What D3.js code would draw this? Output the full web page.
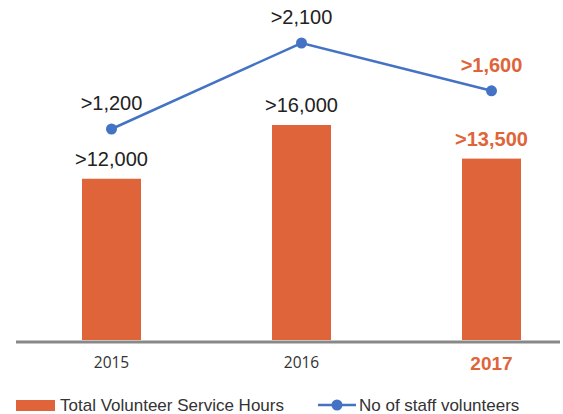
<!DOCTYPE html>
<html>
<head>
<meta charset="utf-8">
<script src="https://cdn.jsdelivr.net/npm/d3@7"></script>
<style>
  html, body { margin: 0; padding: 0; background: #fff; }
  svg { display: block; }
</style>
</head>
<body>
<div id="chart"></div>
<script>
// Data
const years = ['2015', '2016', '2017'];
const serviceHours = [12000, 16000, 13500];
const staffVolunteers = [1200, 2100, 1600];
const hourLabels = ['>12,000', '>16,000', '>13,500'];
const staffLabels = ['>1,200', '>2,100', '>1,600'];
const highlightYear = '2017';

const width = 563, height = 414;
const orange = '#E0643A';
const blue = '#4472C4';
const font = '"Liberation Sans", Arial, Helvetica, sans-serif';

const svg = d3.select('#chart').append('svg')
  .attr('width', width)
  .attr('height', height);

// Scales
const x = d3.scalePoint().domain(years).range([111.5, 491.5]);
const y = d3.scaleLinear().domain([0, 16000]).range([340, 125]);
const y2 = d3.scaleLinear().domain([1200, 2100]).range([129, 43]);
const barWidth = 59;

const rows = years.map((yr, i) => ({
  year: yr, hours: serviceHours[i], staff: staffVolunteers[i],
  hourLabel: hourLabels[i], staffLabel: staffLabels[i],
  hi: yr === highlightYear
}));

// Bars
svg.append('g').selectAll('rect')
  .data(rows)
  .join('rect')
  .attr('x', d => x(d.year) - barWidth / 2)
  .attr('y', d => y(d.hours))
  .attr('width', barWidth)
  .attr('height', d => y(0) - y(d.hours))
  .attr('fill', orange);

// Baseline axis
const xAxis = svg.append('g')
  .attr('transform', `translate(0,${y(0) + 2})`)
  .call(d3.axisBottom(x).tickSize(0).tickPadding(0).tickFormat(''));
xAxis.select('.domain')
  .attr('d', 'M16,0H560')
  .attr('stroke', '#888')
  .attr('stroke-width', 3);

// Year labels
svg.append('g').selectAll('text')
  .data(rows)
  .join('text')
  .attr('x', d => x(d.year))
  .attr('y', d => d.hi ? 370 : 368)
  .attr('text-anchor', 'middle')
  .attr('font-family', d => d.hi ? font : '"Open Sans", sans-serif')
  .attr('font-size', d => d.hi ? 19 : 15.5)
  .attr('font-weight', d => d.hi ? 'bold' : 'normal')
  .attr('fill', d => d.hi ? orange : '#333')
  .text(d => d.year);

// Bar value labels
svg.append('g').selectAll('text')
  .data(rows)
  .join('text')
  .attr('x', d => x(d.year))
  .attr('y', d => y(d.hours) - 13)
  .attr('text-anchor', 'middle')
  .attr('font-family', font)
  .attr('font-size', 20)
  .attr('font-weight', d => d.hi ? 'bold' : 'normal')
  .attr('fill', d => d.hi ? orange : '#222')
  .text(d => d.hourLabel);

// Line series
const line = d3.line()
  .x(d => x(d.year))
  .y(d => y2(d.staff));

svg.append('path')
  .datum(rows)
  .attr('d', line)
  .attr('fill', 'none')
  .attr('stroke', blue)
  .attr('stroke-width', 2.5);

svg.append('g').selectAll('circle')
  .data(rows)
  .join('circle')
  .attr('cx', d => x(d.year))
  .attr('cy', d => y2(d.staff))
  .attr('r', 5.5)
  .attr('fill', blue);

svg.append('g').selectAll('text')
  .data(rows)
  .join('text')
  .attr('x', d => x(d.year))
  .attr('y', d => y2(d.staff) - 19)
  .attr('text-anchor', 'middle')
  .attr('font-family', font)
  .attr('font-size', 20)
  .attr('font-weight', d => d.hi ? 'bold' : 'normal')
  .attr('fill', d => d.hi ? orange : '#222')
  .text(d => d.staffLabel);

// Legend
const legend = svg.append('g').attr('font-family', font).attr('font-size', 17).attr('fill', '#333');

legend.append('rect')
  .attr('x', 16).attr('y', 400)
  .attr('width', 39).attr('height', 11)
  .attr('fill', orange);
legend.append('text')
  .attr('x', 60).attr('y', 411)
  .text('Total Volunteer Service Hours');

legend.append('line')
  .attr('x1', 318).attr('x2', 356)
  .attr('y1', 405).attr('y2', 405)
  .attr('stroke', blue).attr('stroke-width', 2.5);
legend.append('circle')
  .attr('cx', 337).attr('cy', 405).attr('r', 5.5)
  .attr('fill', blue);
legend.append('text')
  .attr('x', 359).attr('y', 411)
  .text('No of staff volunteers');
</script>
</body>
</html>
